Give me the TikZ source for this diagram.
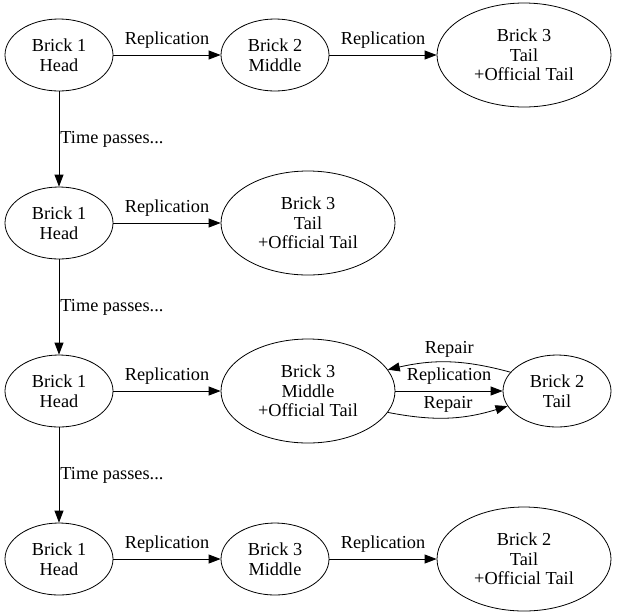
\documentclass[tikz,border=0pt]{standalone}
\usepackage{fontspec}
\setmainfont{Liberation Serif}
\usetikzlibrary{shapes.geometric,arrows.meta}
\begin{document}
\begin{tikzpicture}[x=1pt,y=-1pt,
  brick/.style={draw, ellipse, align=center, inner sep=0pt, minimum width=108pt, minimum height=72pt, font=\fontsize{18.3}{19.5}\selectfont},
  bigbrick/.style={brick, minimum width=174pt, minimum height=104pt},
  link/.style={draw, -{Triangle[length=12pt,width=9pt]}, line width=0.8pt},
  lbl/.style={font=\fontsize{18.3}{20}\selectfont, inner sep=1pt},
  every node/.append style={line width=0.8pt}]
\useasboundingbox (0,0) rectangle (617,614);
% row 1
\node[brick] (h1) at (59,55) {Brick 1\\Head};
\node[brick] (m1) at (275,55) {Brick 2\\Middle};
\node[bigbrick] (t1) at (524,55) {Brick 3\\Tail\\+Official Tail};
% row 2
\node[brick] (h2) at (59,223) {Brick 1\\Head};
\node[bigbrick] (t2) at (308,223) {Brick 3\\Tail\\+Official Tail};
% row 3
\node[brick] (h3) at (59,391) {Brick 1\\Head};
\node[bigbrick] (m3) at (308,391) {Brick 3\\Middle\\+Official Tail};
\node[brick] (t3) at (557,391) {Brick 2\\Tail};
% row 4
\node[brick] (h4) at (59,559) {Brick 1\\Head};
\node[brick] (m4) at (275,559) {Brick 3\\Middle};
\node[bigbrick] (t4) at (524,559) {Brick 2\\Tail\\+Official Tail};

\path[link] (h1) -- node[lbl, midway, yshift=15pt] (l1) {Replication} (m1);
\path[link] (m1) -- node[lbl, midway, yshift=15pt] (l2) {Replication} (t1);
\path[link] (h2) -- node[lbl, midway, yshift=15pt] (l3) {Replication} (t2);
\path[link] (h3) -- node[lbl, midway, yshift=15pt] (l4) {Replication} (m3);
\path[link] (m3) -- node[lbl, midway, yshift=15pt] (l5) {Replication} (t3);
\path[link] (t3.158) to[bend right=14] node[lbl, midway, yshift=13pt] (l6) {Repair} (m3.15);
\path[link] (m3.345) to[bend right=14] node[lbl, midway, yshift=13pt] (l7) {Repair} (t3.197);
\path[link] (h4) -- node[lbl, midway, yshift=15pt] (l8) {Replication} (m4);
\path[link] (m4) -- node[lbl, midway, yshift=15pt] (l9) {Replication} (t4);

\path[link] (h1) -- node[lbl, midway, anchor=west] (p1) {Time passes...} (h2);
\path[link] (h2) -- node[lbl, midway, anchor=west] (p2) {Time passes...} (h3);
\path[link] (h3) -- node[lbl, midway, anchor=west] (p3) {Time passes...} (h4);
\end{tikzpicture}
\end{document}
